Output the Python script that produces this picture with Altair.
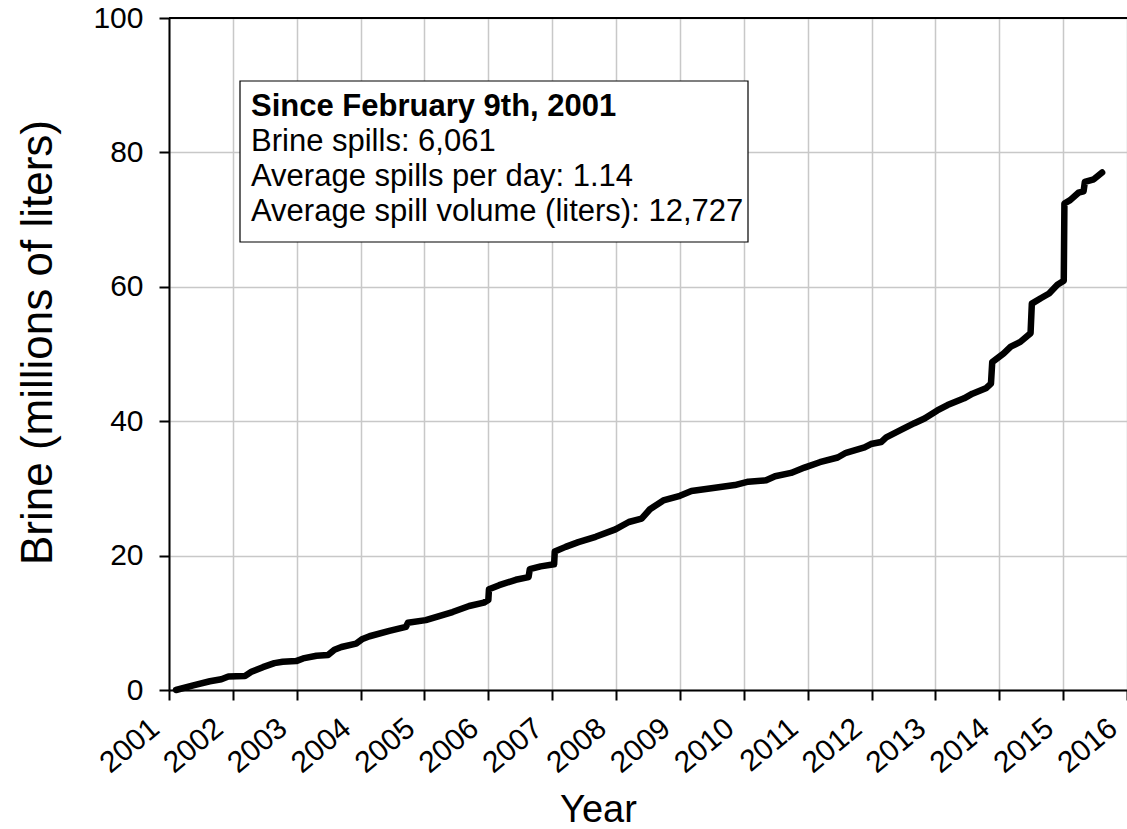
import altair as alt
import pandas as pd

# Cumulative brine spilled since 9 Feb 2001 (millions of liters), by decimal year
years = [
    2001.11, 2001.38, 2001.64, 2001.82, 2001.93, 2002.19, 2002.29, 2002.47,
    2002.65, 2002.78, 2002.99, 2003.10, 2003.31, 2003.49, 2003.59, 2003.70,
    2003.93, 2004.03, 2004.14, 2004.45, 2004.71, 2004.74, 2005.02, 2005.23,
    2005.44, 2005.70, 2005.93, 2006.00, 2006.01, 2006.17, 2006.43, 2006.63,
    2006.65, 2006.82, 2007.03, 2007.04, 2007.21, 2007.41, 2007.68, 2007.99,
    2008.20, 2008.40, 2008.53, 2008.74, 2009.00, 2009.18, 2009.55, 2009.86,
    2010.07, 2010.35, 2010.49, 2010.74, 2010.95, 2011.19, 2011.47, 2011.60,
    2011.89, 2011.99, 2012.15, 2012.23, 2012.46, 2012.67, 2012.83, 2013.03,
    2013.19, 2013.45, 2013.58, 2013.79, 2013.87, 2013.89, 2014.07, 2014.18,
    2014.33, 2014.49, 2014.51, 2014.65, 2014.78, 2014.91, 2015.01, 2015.02,
    2015.11, 2015.24, 2015.32, 2015.34, 2015.48, 2015.61,
]
brine = [
    0.0, 0.7, 1.3, 1.6, 2.0, 2.1, 2.7, 3.4,
    4.0, 4.2, 4.3, 4.7, 5.1, 5.2, 6.0, 6.4,
    6.9, 7.6, 8.0, 8.8, 9.4, 10.0, 10.4, 11.0,
    11.6, 12.5, 13.0, 13.4, 15.0, 15.6, 16.4, 16.8,
    18.0, 18.4, 18.7, 20.6, 21.3, 22.0, 22.8, 23.9,
    25.0, 25.5, 26.9, 28.2, 28.9, 29.6, 30.1, 30.5,
    31.0, 31.2, 31.8, 32.3, 33.1, 33.9, 34.6, 35.3,
    36.1, 36.6, 36.9, 37.6, 38.7, 39.7, 40.4, 41.6,
    42.4, 43.4, 44.1, 44.9, 45.6, 48.8, 50.1, 51.1,
    51.8, 53.1, 57.5, 58.3, 59.0, 60.3, 60.9, 72.4,
    72.9, 74.0, 74.2, 75.6, 76.0, 77.0,
]

x_ticks = list(range(2001, 2017))
y_ticks = [0, 20, 40, 60, 80, 100]

note_title = "Since February 9th, 2001"
note_lines = [
    "Brine spills: 6,061",
    "Average spills per day: 1.14",
    "Average spill volume (liters): 12,727",
]

FONT = "Liberation Sans"
W, H = 958, 672

df = pd.DataFrame({"year": years, "brine": brine})
one = pd.DataFrame({"k": [0]})

line = alt.Chart(df).mark_line(
    color="black", strokeWidth=6.5, strokeCap="round", strokeJoin="round"
).encode(
    x=alt.X(
        "year:Q",
        scale=alt.Scale(domain=[2001, 2016], nice=False, zero=False),
        axis=alt.Axis(
            values=x_ticks, format="d", labelAngle=320, labelAlign="right",
            labelBaseline="middle", labelOffset=-14, labelPadding=24,
            labelOverlap=False, labelFontSize=30,
            title="Year", titleX=429, titleY=131, titleAlign="center",
            titleBaseline="alphabetic", titleFontSize=38,
        ),
    ),
    y=alt.Y(
        "brine:Q",
        scale=alt.Scale(domain=[0, 100], nice=False),
        axis=alt.Axis(
            values=y_ticks, labelPadding=16, labelFontSize=30,
            title="Brine (millions of liters)", titleAngle=270,
            titleX=-118, titleY=324, titleAlign="center",
            titleBaseline="alphabetic", titleFontSize=44,
        ),
    ),
)

# top frame edge
top_edge = alt.Chart(one).mark_rule(color="black", strokeWidth=2).encode(
    x=alt.value(0), x2=alt.value(W), y=alt.value(0)
)

# statistics box
box = alt.Chart(one).mark_rect(
    fill="white", stroke="black", strokeWidth=1.2
).encode(
    x=alt.value(71), x2=alt.value(579), y=alt.value(63), y2=alt.value(224)
)

texts = [
    alt.Chart(one).mark_text(
        font=FONT, fontSize=31, fontWeight="bold", align="left",
        baseline="alphabetic", color="black",
    ).encode(x=alt.value(82), y=alt.value(98), text=alt.value(note_title))
]
for i, s in enumerate(note_lines):
    texts.append(
        alt.Chart(one).mark_text(
            font=FONT, fontSize=31, align="left", baseline="alphabetic",
            color="black",
        ).encode(x=alt.value(82), y=alt.value(133 + 35 * i), text=alt.value(s))
    )

chart = alt.layer(top_edge, box, *texts, line).properties(
    width=W,
    height=H,
    padding={"left": 169, "top": 18, "right": 0, "bottom": 139},
    autosize=alt.AutoSizeParams(type="none"),
    background="white",
).configure_view(stroke=None).configure_axis(
    domainColor="black", domainWidth=2,
    tickColor="black", tickWidth=2, tickSize=10,
    gridColor="#c8c8c8", gridWidth=1.5,
    labelFont=FONT, labelColor="black",
    titleFont=FONT, titleFontWeight="normal",
    titleColor="black",
)

chart.save("out.html", embed_options={"renderer": "svg", "actions": False})
